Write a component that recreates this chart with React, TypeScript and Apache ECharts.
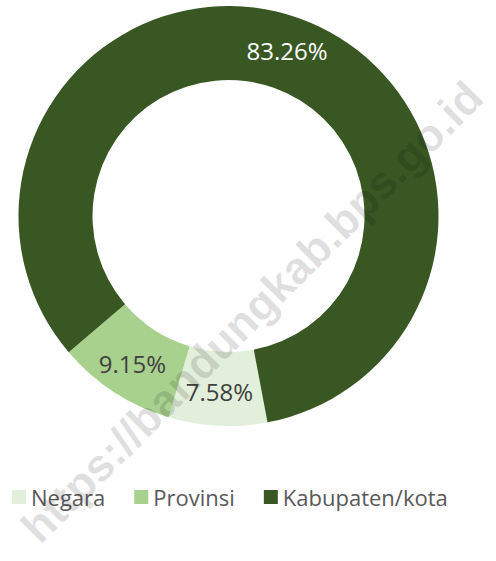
import React, { useEffect, useRef } from "react";
import * as echarts from "echarts";

const categories = ["Negara", "Provinsi", "Kabupaten/kota"];
const values = [7.58, 9.15, 83.26];
const colors = ["#e2efda", "#a9d18e", "#385723"];
const labelColors = ["#404040", "#404040", "#ffffff"];
const watermark = "https://bandungkab.bps.go.id";

export default function App() {
  const ref = useRef<HTMLDivElement>(null);
  useEffect(() => {
    if (!ref.current) return;
    const chart = echarts.init(ref.current, null, { renderer: "svg" });
    chart.setOption({
      animation: false,
      backgroundColor: "#ffffff",
      legend: {
        data: categories,
        left: 7,
        top: 481,
        orient: "horizontal",
        icon: "rect",
        itemWidth: 14,
        itemHeight: 14,
        itemGap: 29,
        selectedMode: false,
        textStyle: { fontFamily: "Open Sans", fontSize: 22, color: "#595959" },
      },
      series: [
        {
          type: "pie",
          center: [228.5, 216],
          radius: [136, 210],
          startAngle: -79.3,
          clockwise: true,
          silent: true,
          avoidLabelOverlap: false,
          label: {
            show: true,
            position: "inside",
            fontFamily: "Open Sans",
            fontSize: 24,
            formatter: (p: any) => p.value.toFixed(2) + "%",
          },
          labelLine: { show: false },
          emphasis: { disabled: true },
          data: categories.map((c, i) => ({
            name: c,
            value: values[i],
            itemStyle: { color: colors[i] },
            label: { color: labelColors[i] },
          })),
        },
      ],
      graphic: [
        {
          type: "text",
          x: 252,
          y: 312,
          rotation: Math.PI / 4,
          z: 100,
          silent: true,
          style: {
            text: watermark,
            fontFamily: "Liberation Sans",
            fontWeight: "bold",
            fontSize: 45,
            fill: "rgba(0,0,0,0.12)",
            align: "center",
            verticalAlign: "middle",
          },
        },
      ],
    });
    return () => chart.dispose();
  }, []);
  return (
    <div
      ref={ref}
      style={{ position: "fixed", left: 0, top: 0, width: 496, height: 561 }}
    />
  );
}
